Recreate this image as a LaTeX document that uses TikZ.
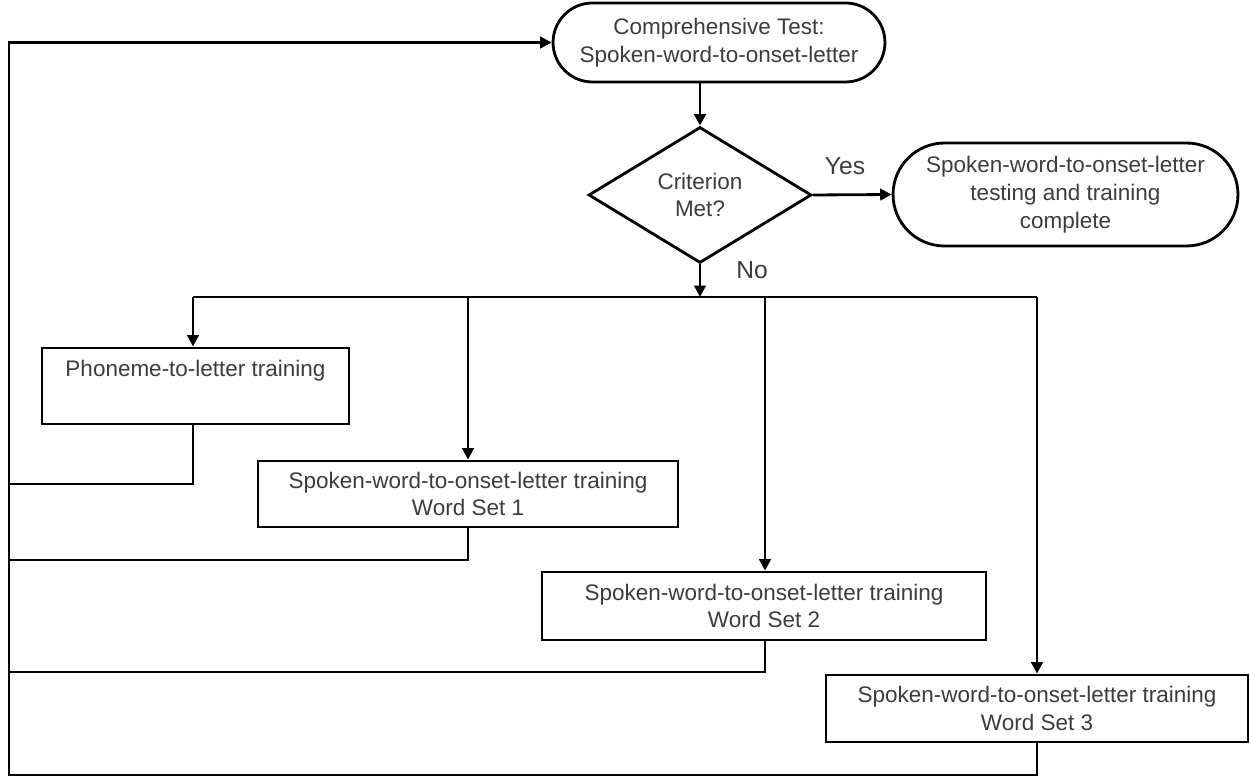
\documentclass[tikz,border=0pt]{standalone}
\usepackage{fontspec}
\setmainfont{Liberation Sans}
\usetikzlibrary{shapes.geometric,shapes.misc,arrows.meta}
\definecolor{txt}{HTML}{3C3C3C}
\begin{document}
\begin{tikzpicture}[x=0.02cm,y=-0.02cm,
  every node/.style={font=\fontsize{12.8}{15.8}\selectfont, text=txt},
  shp/.style={draw=black, line width=1.6pt, inner sep=0pt, align=center},
  proc/.style={shp, rectangle},
  term/.style={shp, rounded rectangle},
  dec/.style={shp, diamond},
  lbl/.style={font=\fontsize{14}{16}\selectfont},
  conn/.style={line width=1.6pt, draw=black},
  arr/.style={conn, -{Triangle[length=6.5pt,width=6.5pt]}},
]
\useasboundingbox (0,0) rectangle (1250,776);

% nodes
\node[term, minimum width=6.64cm, minimum height=1.58cm] (top) at (719,42.5)
  {Comprehensive Test:\\Spoken-word-to-onset-letter};
\node[dec, minimum width=4.46cm, minimum height=2.72cm] (dia) at (700,195)
  {Criterion\\Met?};
\node[term, minimum width=6.9cm, minimum height=2.06cm] (done) at (1065.5,194.5)
  {Spoken-word-to-onset-letter\\testing and training\\complete};
\node[proc, minimum width=6.14cm, minimum height=1.52cm] (b1) at (195.5,386)
  {Phoneme-to-letter training\\\strut};
\node[proc, minimum width=8.4cm, minimum height=1.32cm] (b2) at (468,494)
  {Spoken-word-to-onset-letter training\\Word Set 1};
\node[proc, minimum width=8.88cm, minimum height=1.36cm] (b3) at (764,606)
  {Spoken-word-to-onset-letter training\\Word Set 2};
\node[proc, minimum width=8.44cm, minimum height=1.34cm] (b4) at (1037,708.5)
  {Spoken-word-to-onset-letter training\\Word Set 3};

\node[lbl] (yes) at (845,166) {Yes};
\node[lbl] (no) at (752,270) {No};

% junction coordinates
\coordinate (J)  at (700,297);
\coordinate (J1) at (193,297);
\coordinate (J2) at (468,297);
\coordinate (J3) at (765,297);
\coordinate (J4) at (1037,297);
\coordinate (R1) at (9,484);
\coordinate (R2) at (9,560);
\coordinate (R3) at (9,672);
\coordinate (LB) at (9,775);
\coordinate (LT) at (9,42.5);

% connectors
\draw[arr] (dia.north |- top.south) -- (dia.north);
\draw[arr] (dia.east) -- (done.west);
\draw[arr] (dia.south) -- (J);
\draw[conn] (J1) -- (J4);
\draw[arr] (J1) -- (J1 |- b1.north);
\draw[arr] (J2) -- (b2.north);
\draw[arr] (J3) -- (J3 |- b3.north);
\draw[arr] (J4) -- (b4.north);

\draw[conn] (J1 |- b1.south) |- (R1);
\draw[conn] (b2.south) |- (R2);
\draw[conn] (J3 |- b3.south) |- (R3);
\draw[arr] (b4.south) |- (LB) -- (LT) -- (top.west);
\end{tikzpicture}
\end{document}
